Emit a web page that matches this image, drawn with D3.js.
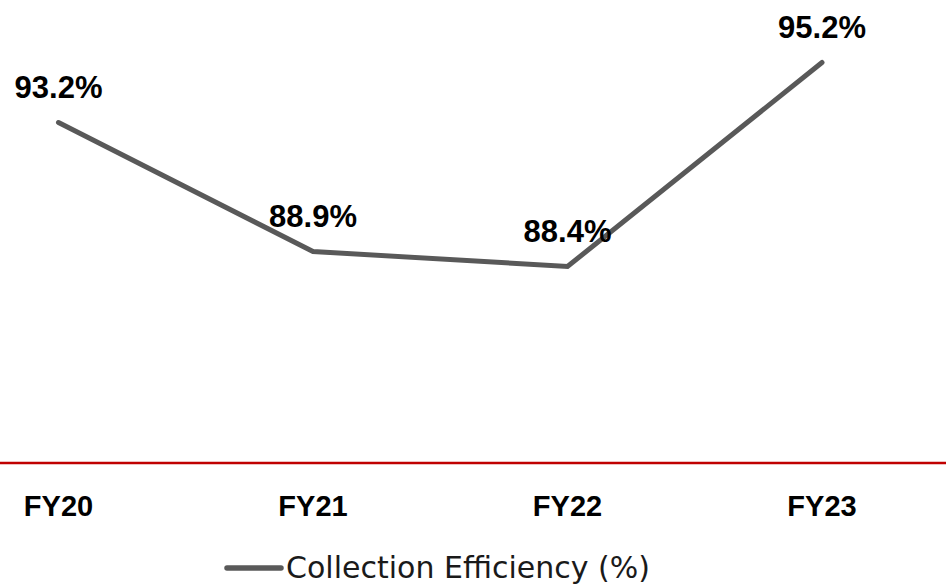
<!DOCTYPE html>
<html>
<head>
<meta charset="utf-8">
<script src="https://cdn.jsdelivr.net/npm/d3@7"></script>
<style>
  html, body { margin: 0; padding: 0; background: #fff; }
  svg { display: block; }
</style>
</head>
<body>
<div id="chart"></div>
<script>
// Data
const categories = ["FY20", "FY21", "FY22", "FY23"];
const efficiency = [93.2, 88.9, 88.4, 95.2];
const seriesName = "Collection Efficiency (%)";
const yDomain = [81.85, 96];

const width = 946, height = 586;

const svg = d3.select("#chart")
    .append("svg")
    .attr("width", width)
    .attr("height", height);

// Scales
const x = d3.scalePoint()
    .domain(categories)
    .range([58.5, 822]);

const y = d3.scaleLinear()
    .domain(yDomain)
    .range([463, 38.5]);

// Red baseline across the whole width
svg.append("line")
    .attr("x1", 0)
    .attr("x2", width)
    .attr("y1", y(yDomain[0]))
    .attr("y2", y(yDomain[0]))
    .attr("stroke", "#c00000")
    .attr("stroke-width", 2.4);

// Category labels
svg.selectAll(".cat")
    .data(categories)
    .enter()
    .append("text")
    .attr("class", "cat")
    .attr("x", d => x(d))
    .attr("y", 516)
    .attr("text-anchor", "middle")
    .style("font-family", "'Liberation Sans', Arial, sans-serif")
    .style("font-weight", "bold")
    .style("font-size", "29px")
    .attr("fill", "#000")
    .text(d => d);

// Line
const line = d3.line()
    .x((d, i) => x(categories[i]))
    .y(d => y(d));

svg.append("path")
    .datum(efficiency)
    .attr("d", line)
    .attr("fill", "none")
    .attr("stroke", "#595959")
    .attr("stroke-width", 5)
    .attr("stroke-linecap", "round")
    .attr("stroke-linejoin", "miter");

// Data labels, sitting above each point
svg.selectAll(".lbl")
    .data(efficiency)
    .enter()
    .append("text")
    .attr("class", "lbl")
    .attr("x", (d, i) => x(categories[i]))
    .attr("y", d => y(d) - 25)
    .attr("text-anchor", "middle")
    .style("font-family", "'Liberation Sans', Arial, sans-serif")
    .style("font-weight", "bold")
    .style("font-size", "31px")
    .attr("fill", "#000")
    .text(d => d.toFixed(1) + "%");

// Legend
const legend = svg.append("g").attr("transform", "translate(227,568)");

legend.append("line")
    .attr("x1", 0)
    .attr("x2", 54)
    .attr("stroke", "#595959")
    .attr("stroke-width", 5.5)
    .attr("stroke-linecap", "round");

legend.append("text")
    .attr("x", 59)
    .attr("y", 9.5)
    .style("font-family", "'DejaVu Sans', sans-serif")
    .style("font-size", "30px")
    .attr("fill", "#1a1a1a")
    .text(seriesName);
</script>
</body>
</html>
